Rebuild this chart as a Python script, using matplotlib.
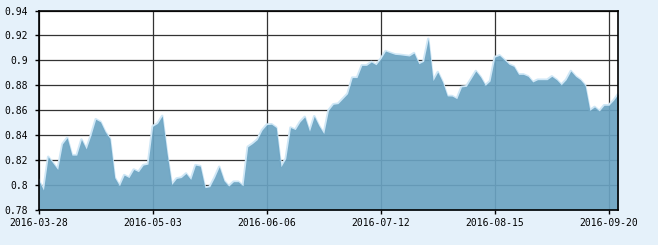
import numpy as np
import matplotlib
matplotlib.use("Agg")
import matplotlib.pyplot as plt

# one value per trading day, 2016-03-28 .. 2016-09-22
values = [
    0.804, 0.796, 0.8227, 0.8176, 0.8125, 0.833, 0.838, 0.824, 0.824, 0.8366,
    0.829, 0.840, 0.8528, 0.8507, 0.8427, 0.8373, 0.806, 0.7995, 0.808, 0.806,
    0.8125, 0.8107, 0.816, 0.8168, 0.8472, 0.8494, 0.8555, 0.826, 0.8005, 0.8053,
    0.806, 0.8093, 0.8045, 0.816, 0.8152, 0.7979, 0.7987, 0.806, 0.8147, 0.8035,
    0.7992, 0.8027, 0.8027, 0.7995, 0.8307, 0.8333, 0.8365, 0.844, 0.8485, 0.8488,
    0.8461, 0.8147, 0.8213, 0.8461, 0.8445, 0.8507, 0.8547, 0.8432, 0.8552, 0.8475,
    0.8413, 0.860, 0.8648, 0.8653, 0.8693, 0.8733, 0.8862, 0.8862, 0.896, 0.896,
    0.8987, 0.8965, 0.9013, 0.9075, 0.9061, 0.9048, 0.9045, 0.904, 0.9035, 0.9059,
    0.8973, 0.8992, 0.9173, 0.8838, 0.8907, 0.8827, 0.8715, 0.8714, 0.8693, 0.8787,
    0.8792, 0.8853, 0.8915, 0.8867, 0.880, 0.8835, 0.9027, 0.904, 0.9005, 0.8968,
    0.8952, 0.8888, 0.8888, 0.8872, 0.8827, 0.8845, 0.8845, 0.8845, 0.8872, 0.8845,
    0.8805, 0.8845, 0.8915, 0.8872, 0.8845, 0.880, 0.860, 0.8627, 0.8595, 0.864,
    0.864, 0.868, 0.8733,
]
date_labels = ["2016-03-28", "2016-05-03", "2016-06-06", "2016-07-12", "2016-08-15", "2016-09-20"]
label_step = 24
y_ticks = [0.78, 0.80, 0.82, 0.84, 0.86, 0.88, 0.90, 0.92, 0.94]
y_labels = ["0.78", "0.8", "0.82", "0.84", "0.86", "0.88", "0.9", "0.92", "0.94"]

x = np.arange(len(values))
bg = "#e5f1fa"

fig = plt.figure(figsize=(6.58, 2.45), dpi=100, facecolor=bg)
ax = fig.add_axes([0.0588, 0.1429, 0.8809, 0.8142])
ax.set_facecolor("white")

ax.plot(x, values, color="#cfe7f6", lw=1.8, zorder=2)
ax.fill_between(x, values, 0.78, color="#6aa3c2", alpha=0.92, lw=0, zorder=3)

ax.set_xlim(0, len(values) - 1)
ax.set_ylim(0.78, 0.94)
ax.set_xticks(x[::label_step])
ax.set_xticklabels(date_labels)
ax.set_yticks(y_ticks)
ax.set_yticklabels(y_labels)

ax.grid(True, color="#333333", lw=0.9, zorder=1)
ax.set_axisbelow(True)
for s in ax.spines.values():
    s.set_color("black")
    s.set_linewidth(1.2)
    s.set_zorder(5)

ax.tick_params(axis="both", direction="out", length=3, width=1, color="black",
               labelsize=7)
ax.tick_params(axis="y", pad=5)
ax.tick_params(axis="x", pad=3)
for lbl in ax.get_xticklabels() + ax.get_yticklabels():
    lbl.set_fontfamily("DejaVu Sans Mono")

plt.savefig("out.png", dpi=100, facecolor=bg)
